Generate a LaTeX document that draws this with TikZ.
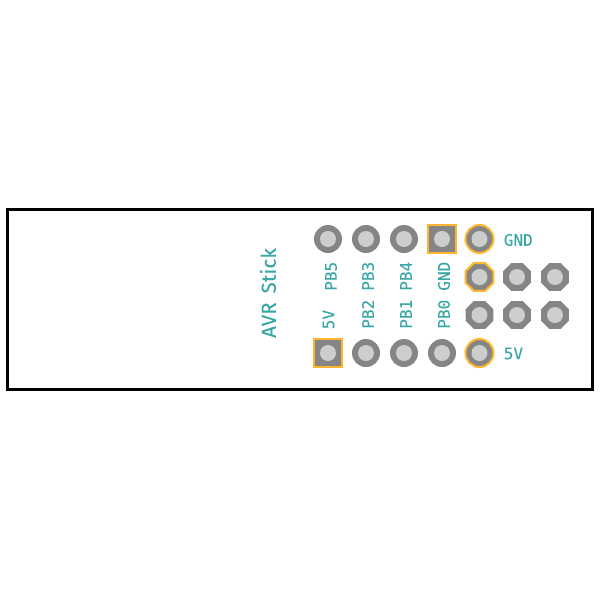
\documentclass[tikz,border=0pt]{standalone}
\usepackage{fontspec}
\setmainfont{Fira Sans}
\newfontfamily\silkfont[FakeBold=0.12]{DejaVu Sans Mono}
\newfontfamily\titlefont[LetterSpace=1, WordSpace=1.6, FakeBold=0.15]{Fira Sans}
\usetikzlibrary{shapes.geometric}
\definecolor{padgray}{HTML}{858585}
\definecolor{holegray}{HTML}{CDCDCD}
\definecolor{padorange}{HTML}{FFB52E}
\definecolor{silkteal}{HTML}{3AA6A6}
\tikzset{
    roundpad/.style={circle, fill=padgray, minimum size=0.56cm, inner sep=0pt},
    squarepad/.style={rectangle, fill=padgray, minimum size=0.56cm, inner sep=0pt},
    octpad/.style={regular polygon, regular polygon sides=8, fill=padgray, minimum size=0.6cm, inner sep=0pt},
    padring/.style={draw=padorange, line width=0.04cm},
    holemark/.style={circle, fill=holegray, minimum size=0.32cm, inner sep=0pt},
    silklabel/.style={text=silkteal, font=\silkfont\fontsize{9.1}{10}\selectfont, inner sep=0pt},
    titlelabel/.style={text=silkteal, font=\titlefont\fontsize{11.6}{13}\selectfont, inner sep=0pt}
}
\begin{document}
\begin{tikzpicture}[x=0.02cm, y=-0.02cm]
    \useasboundingbox (0,0) rectangle (600,600);
    \node[draw=black, line width=0.06cm, minimum width=11.7cm, minimum height=3.6cm, inner sep=0pt] (board) at (300,299.5) {};

    % top row
    \node[roundpad] (pb5) at (328,239) {};
    \node[roundpad] (pb3) at (366,239) {};
    \node[roundpad] (pb4) at (404,239) {};
    \node[squarepad, padring] (gndA) at (442,239) {};
    \node[roundpad, padring] (gndB) at (479.5,239) {};
    % middle rows
    \node[octpad, padring] (ispA) at (479.5,277) {};
    \node[octpad] (ispB) at (517,277) {};
    \node[octpad] (ispC) at (555,277) {};
    \node[octpad] (ispD) at (479.5,315) {};
    \node[octpad] (ispE) at (517,315) {};
    \node[octpad] (ispF) at (555,315) {};
    % bottom row
    \node[squarepad, padring] (vccA) at (328,353) {};
    \node[roundpad] (pb2) at (366,353) {};
    \node[roundpad] (pb1) at (404,353) {};
    \node[roundpad] (pb0) at (442,353) {};
    \node[roundpad, padring] (vccB) at (479.5,353) {};

    \foreach \pad in {pb5,pb3,pb4,gndA,gndB,ispA,ispB,ispC,ispD,ispE,ispF,vccA,pb2,pb1,pb0,vccB}
        \node[holemark] (hole-\pad) at (\pad) {};

    \node[silklabel, rotate=90, anchor=west] (lblPB5) at (331,291) {PB5};
    \node[silklabel, rotate=90, anchor=west] (lblPB3) at (368,291) {PB3};
    \node[silklabel, rotate=90, anchor=west] (lblPB4) at (406,291) {PB4};
    \node[silklabel, rotate=90, anchor=west] (lblGND) at (444,291) {GND};
    \node[silklabel, rotate=90, anchor=west] (lbl5V) at (328.5,329.5) {5V};
    \node[silklabel, rotate=90, anchor=west] (lblPB2) at (368,329) {PB2};
    \node[silklabel, rotate=90, anchor=west] (lblPB1) at (406,329) {PB1};
    \node[silklabel, rotate=90, anchor=west] (lblPB0) at (444,329) {PB0};
    \node[silklabel, anchor=west] (lblGNDr) at (503.5,240) {GND};
    \node[silklabel, anchor=west] (lbl5Vr) at (503.5,353.5) {5V};
    \node[titlelabel, rotate=90] (title) at (268,293) {AVR Stick};
\end{tikzpicture}
\end{document}
